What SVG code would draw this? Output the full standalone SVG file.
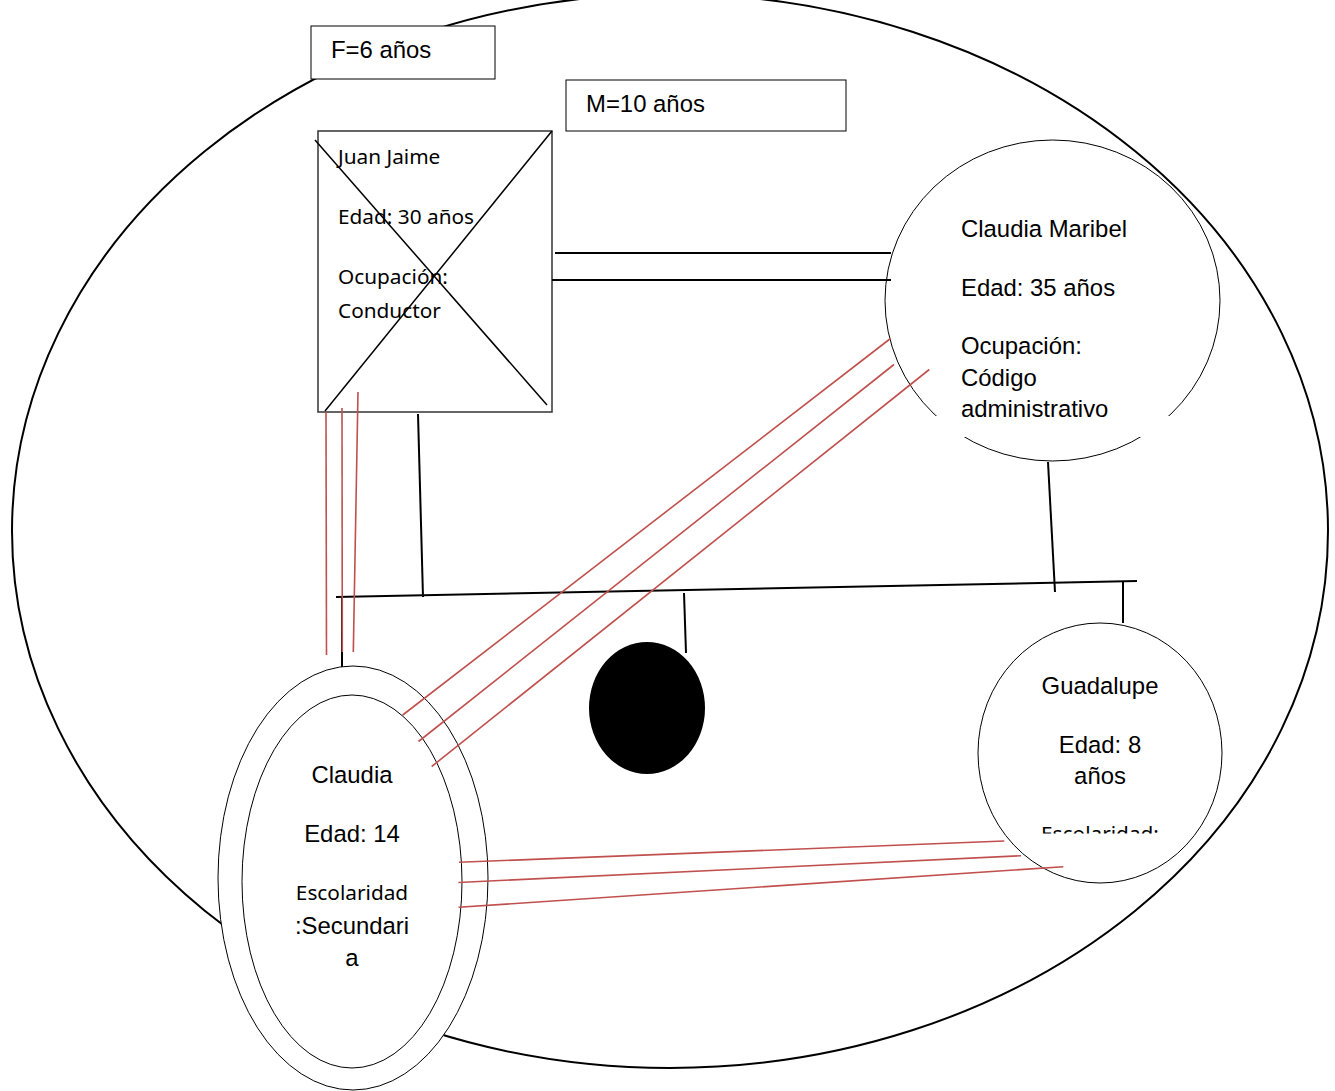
<svg xmlns="http://www.w3.org/2000/svg" width="1335" height="1091" viewBox="0 0 1335 1091">
<style>
.ar{font-family:"Liberation Sans",Arial,sans-serif;font-size:23.9px;fill:#000}
.cb{font-family:"Noto Sans","Open Sans",sans-serif;font-size:20.8px;fill:#000}
.thin{fill:none;stroke:#000;stroke-width:1}
.conn{fill:none;stroke:#000;stroke-width:2}
.red{fill:none;stroke:#c0504d;stroke-width:1.6}
</style>
<defs>
<clipPath id="gclip"><rect x="960" y="800" width="260" height="33.5"/></clipPath>
</defs>
<rect width="1335" height="1091" fill="#fff"/>
<g id="familia">
<ellipse cx="670" cy="531" rx="658" ry="537" fill="none" stroke="#000" stroke-width="2"/>
</g>
<g id="claudia-maribel">
<ellipse cx="1052.5" cy="300.5" rx="167.5" ry="160.5" class="thin"/>
<rect x="936" y="416" width="240" height="21" fill="#fff"/>
<text class="ar" x="961" y="237">Claudia Maribel</text>
<text class="ar" x="961" y="296">Edad: 35 años</text>
<text class="ar" x="961" y="354">Ocupación:</text>
<text class="ar" x="961" y="386">Código</text>
<text class="ar" x="961" y="417">administrativo</text>
</g>
<g id="f-box">
<rect x="311" y="26" width="184" height="53" fill="#fff" stroke="#000" stroke-width="1"/>
<text class="ar" x="331" y="58">F=6 años</text>
</g>
<g id="m-box">
<rect x="566" y="80" width="280" height="51" fill="#fff" stroke="#000" stroke-width="1"/>
<text class="ar" x="586" y="112">M=10 años</text>
</g>
<g id="juan-jaime">
<rect x="318" y="131" width="234" height="281" fill="#fff" stroke="#333" stroke-width="1.5"/>
<text class="cb" x="338" y="164">Juan Jaime</text>
<text class="cb" x="338" y="224">Edad: 30 años</text>
<text class="cb" x="338" y="284">Ocupación:</text>
<text class="cb" x="338" y="318">Conductor</text>
<line x1="315" y1="140" x2="547" y2="405" stroke="#000" stroke-width="1.5"/>
<line x1="325" y1="411" x2="552" y2="131" stroke="#000" stroke-width="1.5"/>
</g>
<g id="claudia">
<ellipse cx="353" cy="878" rx="135" ry="212" fill="#fff" stroke="#000" stroke-width="1"/>
<ellipse cx="352" cy="881.5" rx="110" ry="186.5" fill="#fff" stroke="#000" stroke-width="1"/>
<text class="ar" x="352" y="783" text-anchor="middle">Claudia</text>
<text class="ar" x="352" y="842" text-anchor="middle">Edad: 14</text>
<text class="cb" x="352" y="900" text-anchor="middle">Escolaridad</text>
<text class="ar" x="352" y="934" text-anchor="middle">:Secundari</text>
<text class="ar" x="352" y="966" text-anchor="middle">a</text>
</g>
<g id="perdida">
<ellipse cx="647" cy="708" rx="58" ry="66" fill="#000"/>
</g>
<g id="guadalupe">
<ellipse cx="1100" cy="753" rx="122" ry="130" class="thin"/>
<text class="ar" x="1100" y="694" text-anchor="middle">Guadalupe</text>
<text class="ar" x="1100" y="753" text-anchor="middle">Edad: 8</text>
<text class="ar" x="1100" y="784" text-anchor="middle">años</text>
<text class="cb" x="1100" y="841" text-anchor="middle" clip-path="url(#gclip)">Escolaridad:</text>
</g>
<g id="connectors">
<line x1="555" y1="253" x2="891" y2="253" class="conn" stroke-width="1.5"/>
<line x1="552" y1="280" x2="891" y2="280" class="conn" stroke-width="1.5"/>
<line x1="418" y1="414" x2="423" y2="597" class="conn"/>
<line x1="336" y1="597" x2="1137" y2="581" class="conn"/>
<line x1="1048" y1="462" x2="1055" y2="592" class="conn"/>
<line x1="1123" y1="582" x2="1123" y2="623" class="conn"/>
<line x1="684" y1="593" x2="686" y2="653" class="conn"/>
<line x1="342" y1="597" x2="342" y2="667" class="conn"/>
<line x1="326" y1="412" x2="326.5" y2="655" class="red"/>
<line x1="342" y1="408" x2="342.3" y2="652" class="red"/>
<line x1="358" y1="392" x2="353.3" y2="652" class="red"/>
<line x1="890.5" y1="338.5" x2="402.7" y2="715" class="red"/>
<line x1="894" y1="364.5" x2="418.5" y2="741.5" class="red"/>
<line x1="929.3" y1="369.5" x2="431.7" y2="766.5" class="red"/>
<line x1="459" y1="862.3" x2="1004.3" y2="841" class="red"/>
<line x1="458.5" y1="882.5" x2="1021" y2="855.7" class="red"/>
<line x1="458.5" y1="907.3" x2="1063.3" y2="866.7" class="red"/>
</g>
</svg>
